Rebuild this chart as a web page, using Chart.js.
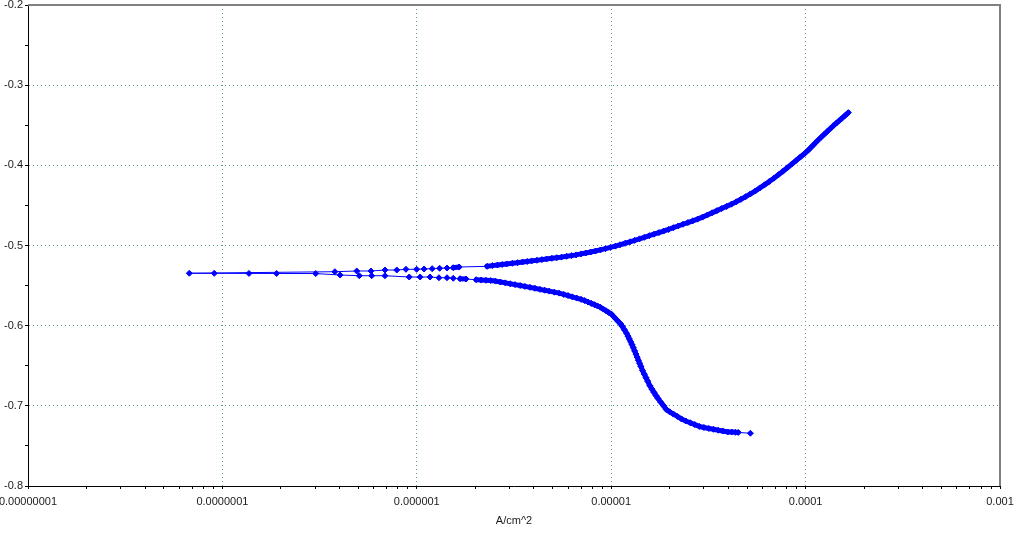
<!DOCTYPE html>
<html>
<head>
<meta charset="utf-8">
<script src="https://cdn.jsdelivr.net/npm/chart.js@4.4.0/dist/chart.umd.min.js"></script>
<style>
  html, body { margin: 0; padding: 0; background: #fff; }
</style>
</head>
<body>
<canvas id="tafelChart" width="1024" height="535"></canvas>
<script>
  // Tafel scan. Cathodic part first (high current -> Ecorr)
  const cathodicI = [5.2e-5, 4.5e-5, 4.35e-5, 4.17e-5, 3.98e-5, 3.75e-5, 3.55e-5, 3.36e-5, 3.18e-5, 3.0e-5,
    2.84e-5, 2.69e-5, 2.55e-5, 2.42e-5, 2.3e-5, 2.19e-5, 2.09e-5, 2.0e-5, 1.92e-5, 1.86e-5,
    1.80e-5, 1.74e-5, 1.70e-5, 1.66e-5, 1.62e-5, 1.58e-5, 1.54e-5, 1.51e-5, 1.48e-5, 1.45e-5,
    1.42e-5, 1.40e-5, 1.38e-5, 1.36e-5, 1.34e-5, 1.32e-5, 1.30e-5, 1.28e-5, 1.26e-5, 1.24e-5,
    1.22e-5, 1.20e-5, 1.17e-5, 1.14e-5, 1.12e-5, 1.09e-5, 1.06e-5, 1.03e-5, 1.0e-5, 9.7e-6,
    9.4e-6, 9.1e-6, 8.8e-6, 8.5e-6, 8.2e-6, 7.9e-6, 7.6e-6, 7.3e-6, 7.0e-6, 6.65e-6,
    6.3e-6, 6.0e-6, 5.7e-6, 5.4e-6, 5.1e-6, 4.8e-6, 4.55e-6, 4.3e-6, 4.05e-6, 3.82e-6,
    3.6e-6, 3.4e-6, 3.2e-6, 3.02e-6, 2.85e-6, 2.69e-6, 2.54e-6, 2.4e-6, 2.27e-6, 2.14e-6,
    2.02e-6, 1.79e-6, 1.67e-6, 1.54e-6, 1.43e-6, 1.30e-6, 1.17e-6, 1.04e-6, 9.14e-7, 6.86e-7,
    5.86e-7, 5.06e-7, 4.03e-7, 3.02e-7, 1.90e-7, 1.37e-7, 9.08e-8, 6.76e-8];
  const cathodicE = [-0.7342, -0.7332, -0.7330, -0.7327, -0.7326, -0.7314, -0.7304, -0.7293, -0.7282, -0.7270,
    -0.7257, -0.7234, -0.7211, -0.7189, -0.7164, -0.7132, -0.7103, -0.7075, -0.7045, -0.7000,
    -0.6955, -0.6907, -0.6872, -0.6833, -0.6792, -0.6748, -0.6692, -0.6649, -0.6605, -0.6560,
    -0.6507, -0.6469, -0.6432, -0.6393, -0.6354, -0.6315, -0.6275, -0.6237, -0.6202, -0.6166,
    -0.6131, -0.6095, -0.6052, -0.6009, -0.5980, -0.5950, -0.5919, -0.5887, -0.5854, -0.5835,
    -0.5814, -0.5793, -0.5770, -0.5754, -0.5738, -0.5722, -0.5705, -0.5687, -0.5672, -0.5656,
    -0.5640, -0.5625, -0.5610, -0.5594, -0.5582, -0.5569, -0.5558, -0.5547, -0.5534, -0.5522,
    -0.5510, -0.5499, -0.5488, -0.5477, -0.5466, -0.5455, -0.5444, -0.5437, -0.5434, -0.5431,
    -0.5427, -0.5418, -0.5414, -0.5409, -0.5402, -0.5402, -0.5393, -0.5393, -0.5393, -0.5377,
    -0.5377, -0.5377, -0.5368, -0.5350, -0.5349, -0.5348, -0.5347, -0.5346];

  // anodic part (Ecorr -> end of scan)
  const anodicI = [3.79e-7, 4.91e-7, 5.81e-7, 6.86e-7, 7.89e-7, 8.79e-7, 9.98e-7, 1.09e-6, 1.20e-6, 1.31e-6,
    1.43e-6, 1.54e-6, 1.65e-6, 2.3e-6, 2.45e-6, 2.6e-6, 2.75e-6, 2.9e-6, 3.1e-6, 3.3e-6,
    3.5e-6, 3.7e-6, 3.9e-6, 4.15e-6, 4.4e-6, 4.65e-6, 4.95e-6, 5.25e-6, 5.55e-6, 5.9e-6,
    6.25e-6, 6.6e-6, 7.0e-6, 7.4e-6, 7.85e-6, 8.3e-6, 8.8e-6, 9.35e-6, 9.9e-6, 1.05e-5,
    1.11e-5, 1.18e-5, 1.25e-5, 1.32e-5, 1.40e-5, 1.48e-5, 1.57e-5, 1.66e-5, 1.76e-5, 1.86e-5,
    1.97e-5, 2.09e-5, 2.21e-5, 2.34e-5, 2.48e-5, 2.63e-5, 2.78e-5, 2.95e-5, 3.12e-5, 3.3e-5,
    3.5e-5, 3.7e-5, 3.92e-5, 4.15e-5, 4.4e-5, 4.65e-5, 4.92e-5, 5.2e-5, 5.5e-5, 5.82e-5,
    6.15e-5, 6.5e-5, 6.87e-5, 7.25e-5, 7.65e-5, 8.05e-5, 8.5e-5, 8.95e-5, 9.4e-5, 9.9e-5,
    1.04e-4, 1.09e-4, 1.14e-4, 1.19e-4, 1.24e-4, 1.29e-4, 1.34e-4, 1.39e-4, 1.44e-4, 1.49e-4,
    1.54e-4, 1.59e-4, 1.64e-4, 1.66e-4];
  const anodicE = [-0.5327, -0.5318, -0.5318, -0.5306, -0.5306, -0.5297, -0.5297, -0.5293, -0.5289, -0.5284,
    -0.5281, -0.5277, -0.5268, -0.5260, -0.5251, -0.5244, -0.5237, -0.5230, -0.5222, -0.5214,
    -0.5206, -0.5199, -0.5192, -0.5184, -0.5176, -0.5168, -0.5160, -0.5152, -0.5145, -0.5135,
    -0.5126, -0.5117, -0.5105, -0.5094, -0.5081, -0.5069, -0.5055, -0.5039, -0.5024, -0.5008,
    -0.4991, -0.4972, -0.4954, -0.4936, -0.4917, -0.4898, -0.4878, -0.4859, -0.4839, -0.4820,
    -0.4800, -0.4778, -0.4757, -0.4735, -0.4714, -0.4692, -0.4671, -0.4646, -0.4620, -0.4593,
    -0.4565, -0.4539, -0.4512, -0.4485, -0.4455, -0.4424, -0.4391, -0.4357, -0.4321, -0.4282,
    -0.4243, -0.4203, -0.4160, -0.4117, -0.4073, -0.4031, -0.3984, -0.3939, -0.3896, -0.3851,
    -0.3803, -0.3752, -0.3704, -0.3660, -0.3619, -0.3580, -0.3542, -0.3506, -0.3473, -0.3442,
    -0.3412, -0.3382, -0.3354, -0.3343];

  const xTickValues = [1e-8, 1e-7, 1e-6, 1e-5, 1e-4, 1e-3];
  const xTickLabels = ["0.00000001", "0.0000001", "0.000001", "0.00001", "0.0001", "0.001"];
  const yTickValues = [-0.8, -0.7, -0.6, -0.5, -0.4, -0.3, -0.2];
  const yTickLabels = ["-0.8", "-0.7", "-0.6", "-0.5", "-0.4", "-0.3", "-0.2"];
  const xTitle = "A/cm^2";

  const scanPoints = [];
  cathodicI.forEach((v, i) => scanPoints.push({ x: v, y: cathodicE[i] }));
  anodicI.forEach((v, i) => scanPoints.push({ x: v, y: anodicE[i] }));

  const FONT = { family: "'Liberation Sans', Arial, sans-serif", size: 11 };
  const GRID = "#5f9c9c";

  // gray frame on the top and right side of the plot
  const framePlugin = {
    id: "frame",
    afterDraw(chart) {
      const { ctx, chartArea: a } = chart;
      ctx.save();
      ctx.strokeStyle = "#808080";
      ctx.lineWidth = 2;
      ctx.beginPath();
      ctx.moveTo(a.left, a.top);
      ctx.lineTo(a.right, a.top);
      ctx.lineTo(a.right, a.bottom);
      ctx.stroke();
      ctx.restore();
    }
  };

  function gridColor(c) {
    const t = c.tick;
    if (!t || !t.major || c.index === 0 || c.index === c.scale.ticks.length - 1) return "rgba(0,0,0,0)";
    return GRID;
  }

  // where the scan points sit close together they merge into a thick band
  function segWidth(c) {
    const dx = c.p1.x - c.p0.x, dy = c.p1.y - c.p0.y;
    return Math.sqrt(dx * dx + dy * dy) < 6 ? 5 : 1;
  }

  new Chart(document.getElementById("tafelChart"), {
    type: "scatter",
    data: {
      datasets: [{
        data: scanPoints,
        showLine: true,
        borderColor: "#0000ff",
        borderWidth: 1,
        borderCapStyle: "round",
        borderJoinStyle: "round",
        segment: { borderWidth: segWidth },
        backgroundColor: "#0000ff",
        pointStyle: "rectRot",
        pointRadius: 3,
        pointBorderWidth: 1,
        pointBorderColor: "#0000ff",
        tension: 0
      }]
    },
    options: {
      responsive: false,
      animation: false,
      layout: { padding: { top: 5, right: 24, left: 0, bottom: 0 } },
      plugins: { legend: { display: false }, tooltip: { enabled: false } },
      scales: {
        x: {
          type: "logarithmic",
          min: 1e-8,
          max: 1e-3,
          afterBuildTicks(scale) {
            const list = [];
            xTickValues.forEach((d, i) => {
              list.push({ value: d, major: true, lbl: xTickLabels[i] });
              if (i < xTickValues.length - 1) {
                for (let m = 2; m <= 9; m++) list.push({ value: m * d, major: false, lbl: "" });
              }
            });
            scale.ticks = list;
          },
          afterFit(scale) {
            scale.height = 49;
            scale.paddingLeft = 0;
            scale.paddingRight = 0;
          },
          ticks: {
            autoSkip: false,
            maxRotation: 0,
            padding: 6,
            color: "#1a1a1a",
            font: FONT,
            callback: (v, i, ticks) => ticks[i].lbl
          },
          grid: { color: gridColor, lineWidth: 1, tickColor: "#000", tickLength: 3, tickWidth: 1 },
          border: { color: "#000", width: 1, dash: [1, 3] },
          title: { display: true, text: xTitle, color: "#1a1a1a", font: FONT, padding: { top: 0, bottom: 7 } }
        },
        y: {
          type: "linear",
          min: -0.8,
          max: -0.2,
          afterBuildTicks(scale) {
            const list = [];
            yTickValues.forEach((v, i) => {
              list.push({ value: v, major: true, lbl: yTickLabels[i] });
              if (i < yTickValues.length - 1) list.push({ value: (v + yTickValues[i + 1]) / 2, major: false, lbl: "" });
            });
            scale.ticks = list;
          },
          afterFit(scale) {
            scale.width = 28;
            scale.paddingTop = 0;
            scale.paddingBottom = 0;
          },
          ticks: {
            autoSkip: false,
            padding: 2,
            color: "#1a1a1a",
            font: FONT,
            callback: (v, i, ticks) => ticks[i].lbl
          },
          grid: { color: gridColor, lineWidth: 1, tickColor: "#000", tickLength: 3, tickWidth: 1 },
          border: { color: "#000", width: 1, dash: [1, 3] }
        }
      }
    },
    plugins: [framePlugin]
  });
</script>
</body>
</html>
